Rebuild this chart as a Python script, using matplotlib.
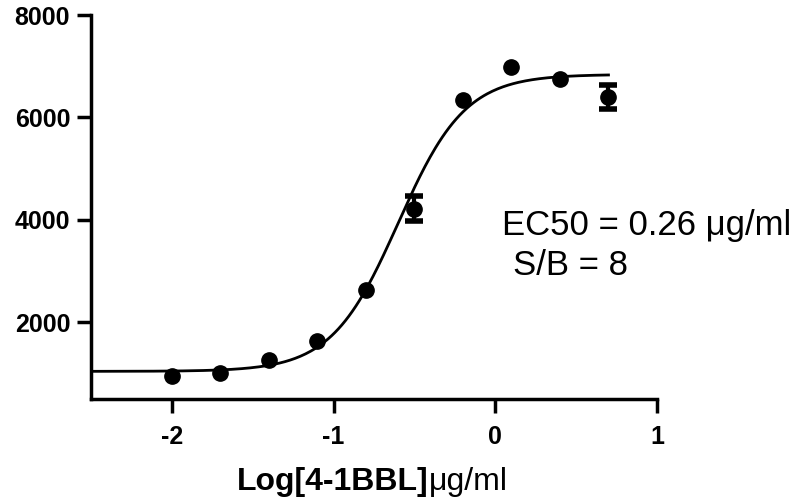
import numpy as np
import matplotlib
matplotlib.use("Agg")
import matplotlib.pyplot as plt

# log10 concentration (ug/ml) and mean signal
log_conc = [-2.0, -1.7, -1.4, -1.1, -0.8, -0.5, -0.2, 0.1, 0.4, 0.7]
signal = [950, 1005, 1260, 1630, 2620, 4220, 6345, 6990, 6760, 6400]
sem = [20, 20, 20, 20, 20, 250, 20, 20, 20, 235]

# 4PL fit parameters
bottom, top, log_ec50, hill = 1040, 6840, -0.60, 2.1

plt.rcParams['font.family'] = ['Liberation Sans', 'DejaVu Sans']
plt.rcParams['axes.unicode_minus'] = False

fig = plt.figure(figsize=(8.1, 5.04), dpi=100)
ax = fig.add_axes([0.1123, 0.2083, 0.6988, 0.7619])

xfit = np.linspace(-2.5, 0.7, 300)
yfit = bottom + (top - bottom) / (1 + 10 ** ((log_ec50 - xfit) * hill))
ax.plot(xfit, yfit, color='black', lw=2)

# error bars smaller than the symbol are hidden, like Prism does
big = [i for i in range(len(sem)) if sem[i] > 100]
ax.errorbar([log_conc[i] for i in big], [signal[i] for i in big],
            yerr=[sem[i] for i in big], fmt='none', ecolor='black',
            elinewidth=3, capsize=6.5, capthick=4)
ax.plot(log_conc, signal, 'o', color='black', ms=11)

ax.set_xlim(-2.5, 1)
ax.set_ylim(500, 8000)
ax.set_xticks([-2, -1, 0, 1])
ax.set_yticks([2000, 4000, 6000, 8000])
for s in ['top', 'right']:
    ax.spines[s].set_visible(False)
for s in ['left', 'bottom']:
    ax.spines[s].set_linewidth(2.5)
ax.tick_params(width=2.5, length=10, pad=5, labelsize=18)
ax.tick_params(axis='x', pad=9)
for lab in ax.get_xticklabels() + ax.get_yticklabels():
    lab.set_fontweight('bold')

# x label: bold part + regular unit
t1 = fig.text(0.2926, 0.0278, 'Log[4-1BBL]', fontsize=23, weight='bold', va='baseline')
fig.canvas.draw()
bb = t1.get_window_extent()
fig.text(bb.x1 / fig.bbox.width, 0.0278, 'μg/ml', fontsize=23, va='baseline')

fig.text(0.620, 0.5337, 'EC50 = 0.26 μg/ml', fontsize=25, va='baseline')
fig.text(0.633, 0.4544, 'S/B = 8', fontsize=25, va='baseline')

fig.savefig('out.png', dpi=100)
